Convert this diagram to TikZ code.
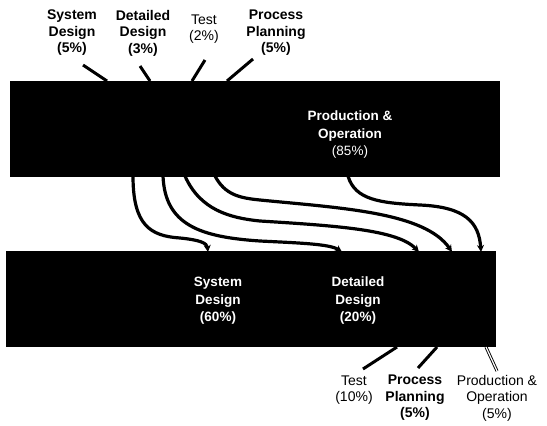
\documentclass[tikz,border=0pt]{standalone}
\usepackage{fontspec}
\setmainfont{Liberation Sans}
\usetikzlibrary{arrows.meta}
\begin{document}
\begin{tikzpicture}[x=1pt,y=1pt,
  blockbox/.style={fill=black,draw=none,rectangle,inner sep=0pt,minimum width=490pt,minimum height=96pt},
  lbl/.style={align=center,inner sep=0pt,font=\fontsize{14}{16.5}\selectfont},
  blbl/.style={lbl,font=\fontsize{14}{16.5}\selectfont\bfseries},
  wlbl/.style={lbl,text=white,font=\fontsize{13.5}{17.5}\selectfont\bfseries},
  leader/.style={line width=3pt},
  flow/.style={line width=3.2pt,-{Stealth[length=7pt,width=7pt]}}]
\useasboundingbox (0,0) rectangle (547,-426);
% boxes
\node[blockbox] (top) at (255,-129) {};
\node[blockbox] (bot) at (251,-299) {};
% inner labels
\node[wlbl] (po85) at (350,-135) {Production \&\\Operation\\\mdseries(85\%)};
\node[wlbl] (sd60) at (218,-301) {System\\Design\\(60\%)};
\node[wlbl] (dd20) at (358,-301) {Detailed\\Design\\(20\%)};
% top labels
\node[blbl] (sd5) at (72,-33) {System\\Design\\(5\%)};
\node[blbl] (dd3) at (143,-33) {Detailed\\Design\\(3\%)};
\node[lbl] (t2) at (204,-29) {Test\\(2\%)};
\node[blbl] (pp5) at (276,-33) {Process\\Planning\\(5\%)};
% bottom labels
\node[lbl] (t10) at (354,-390) {Test\\(10\%)};
\node[blbl] (pp5b) at (415,-398) {Process\\Planning\\(5\%)};
\node[lbl] (po5) at (497,-398) {Production \&\\Operation\\(5\%)};
% leader end points
\coordinate (a1) at (83,-65);  \coordinate (b1) at (107,-81);
\coordinate (a2) at (140,-66); \coordinate (b2) at (150,-81);
\coordinate (a3) at (205,-60); \coordinate (b3) at (192,-81);
\coordinate (a4) at (253,-59); \coordinate (b4) at (227,-81);
\coordinate (c1) at (397,-347); \coordinate (d1) at (363,-369);
\coordinate (c2) at (437,-347); \coordinate (d2) at (418,-368);
\coordinate (c3) at (486,-347); \coordinate (d3) at (497,-371);
\draw[leader] (a1) -- (b1);
\draw[leader] (a2) -- (b2);
\draw[leader] (a3) -- (b3);
\draw[leader] (a4) -- (b4);
\draw[leader] (c1) -- (d1);
\draw[leader] (c2) -- (d2);
\draw[line width=0.9pt,double=white,double distance=1.2pt] (c3) -- (d3);
% flow curves
\coordinate (s1) at (133,-176); \coordinate (e1) at (208,-252);
\coordinate (s2) at (163,-176); \coordinate (e2) at (342,-252);
\coordinate (s3) at (185,-176); \coordinate (e3) at (419,-252);
\coordinate (s4) at (215,-176); \coordinate (e4) at (452,-252);
\coordinate (s5) at (348,-176); \coordinate (e5) at (481,-252);
\draw[flow] (s1) .. controls (133,-225) and (150,-236) .. (180,-238) .. controls (200,-240) and (207,-243) .. (e1);
\draw[flow] (s2) .. controls (165,-225) and (200,-237) .. (260,-241) .. controls (300,-243) and (330,-244) .. (e2);
\draw[flow] (s3) .. controls (200,-210) and (230,-218) .. (260,-221) .. controls (340,-226) and (398,-230) .. (e3);
\draw[flow] (s4) .. controls (225,-195) and (240,-198) .. (260,-200) .. controls (340,-208) and (425,-212) .. (e4);
\draw[flow] (s5) .. controls (355,-200) and (380,-203) .. (420,-205) .. controls (465,-207) and (479,-222) .. (e5);
\end{tikzpicture}
\end{document}
